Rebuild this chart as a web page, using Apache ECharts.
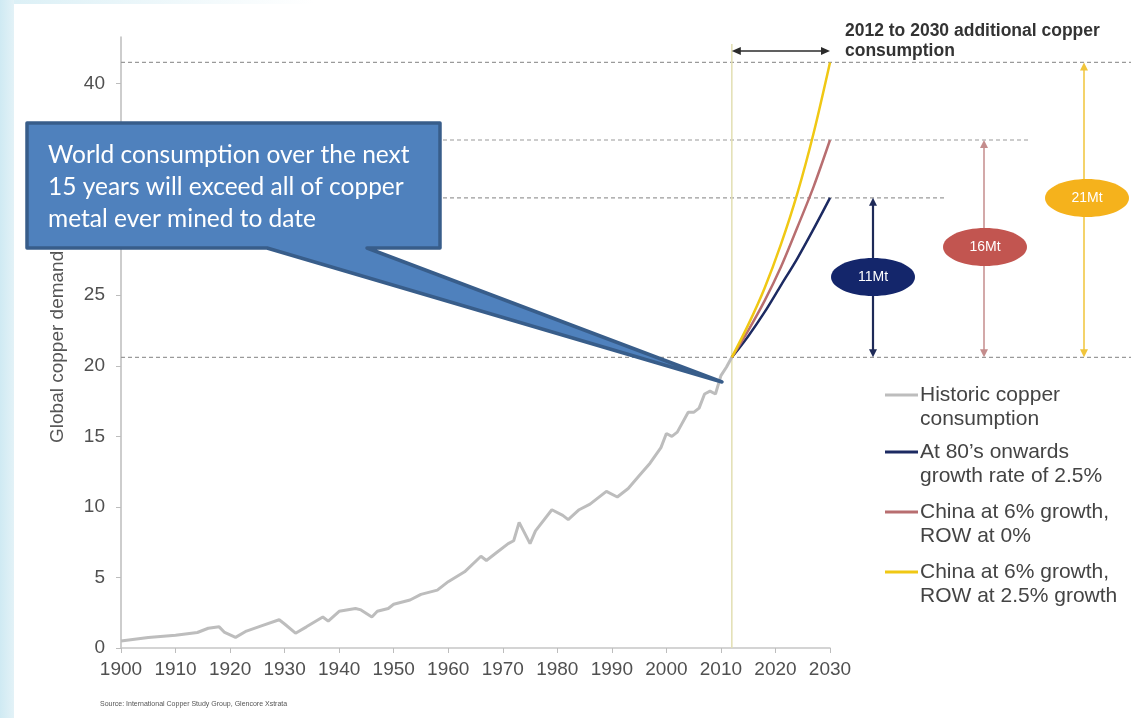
<!DOCTYPE html>
<html><head><meta charset="utf-8">
<script src="https://cdn.jsdelivr.net/npm/echarts@6/dist/echarts.min.js"></script>
<style>
html,body{margin:0;padding:0;width:1131px;height:718px;overflow:hidden;background:#fff;}
#bgl{position:absolute;left:0;top:0;width:14px;height:718px;background:linear-gradient(90deg,#cfeaf3,#e3f2f7);}
#bgt{position:absolute;left:14px;top:0;width:300px;height:4px;background:linear-gradient(90deg,#dcf0f6,#fff);}
#chart{position:absolute;left:0;top:0;width:1131px;height:718px;}
</style></head><body><div id="bgl"></div><div id="bgt"></div><div id="chart"></div>
<script>
// Historic copper consumption (Mt)
const histYears  = [1900,1905,1910,1914,1916,1918,1919,1921,1923,1926,1929,1930,1932,1934,1937,1938,1940,1943,1944,1946,1947,1949,1950,1953,1955,1958,1960,1963,1966,1967,1969,1971,1972,1973,1975,1976,1979,1981,1982,1984,1986,1988,1989,1991,1993,1995,1997,1999,2000,2001,2002,2004,2005,2006,2007,2008,2009,2010,2011,2012];
const histValues = [0.5,0.75,0.9,1.1,1.4,1.5,1.1,0.75,1.2,1.6,2.0,1.7,1.05,1.5,2.2,1.9,2.6,2.8,2.7,2.2,2.6,2.8,3.1,3.4,3.8,4.1,4.7,5.4,6.5,6.2,6.8,7.4,7.6,8.9,7.4,8.3,9.8,9.4,9.1,9.8,10.2,10.8,11.1,10.7,11.3,12.2,13.1,14.2,15.2,15.0,15.3,16.7,16.7,17.0,18.0,18.2,18.0,19.3,19.9,20.6];
// Projections 2012-2030
const projYears      = [2012,2015,2018,2021,2024,2027,2030];
const proj80s        = [20.6,22.1,23.8,25.7,27.6,29.7,31.9];
const projChinaRow0  = [20.6,22.5,24.6,27.0,29.8,32.7,36.0];
const projChinaRow25 = [20.6,22.9,25.5,28.6,32.2,36.5,41.5];
const yTicks = [0,5,10,15,20,25,30,35,40];
const seriesNames = ['Historic copper\nconsumption','At 80\u2019s onwards\ngrowth rate of 2.5%','China at 6% growth,\nROW at 0%','China at 6% growth,\nROW at 2.5% growth'];
const seriesColors = ['#bdbdbd','#1c2a62','#b86e70','#f0c814'];
const gapLabels = ['11Mt','16Mt','21Mt'];

const chart = echarts.init(document.getElementById('chart'));
const pair = (xs, ys) => xs.map((x,i)=>[x, ys[i]]);
const axisFont = 'Liberation Sans, Arial, sans-serif';
chart.setOption({
  animation:false,
  grid:{left:121,right:301,top:37,bottom:70},
  xAxis:{type:'value',min:1900,max:2030,interval:10,
    axisLine:{lineStyle:{color:'#c6c6c6',width:1.5}},
    axisTick:{show:true,length:5,lineStyle:{color:'#bdbdbd'}},
    axisLabel:{fontSize:19,color:'#505050',margin:12,fontFamily:axisFont,formatter:v=>String(v)},
    splitLine:{show:false}},
  yAxis:{type:'value',min:0,max:43.3,
    axisLine:{show:true,lineStyle:{color:'#bdbdbd',width:1.5}},
    axisTick:{show:true,length:5,customValues:yTicks,lineStyle:{color:'#bdbdbd'}},
    axisLabel:{fontSize:19,color:'#505050',margin:16,fontFamily:axisFont,customValues:yTicks},
    splitLine:{show:false}},
  series:[
    {type:'line',name:seriesNames[0],data:pair(histYears,histValues),showSymbol:false,lineStyle:{color:seriesColors[0],width:3},z:2},
    {type:'line',name:seriesNames[1],data:pair(projYears,proj80s),smooth:0.3,showSymbol:false,lineStyle:{color:seriesColors[1],width:2.5},z:3},
    {type:'line',name:seriesNames[2],data:pair(projYears,projChinaRow0),smooth:0.3,showSymbol:false,lineStyle:{color:seriesColors[2],width:2.5},z:4},
    {type:'line',name:seriesNames[3],data:pair(projYears,projChinaRow25),smooth:0.3,showSymbol:false,lineStyle:{color:seriesColors[3],width:2.5},z:5}
  ]
});

const P = (x,y)=>chart.convertToPixel({gridIndex:0},[x,y]);
const base = histValues[histValues.length-1];
const yBase = P(2012,base)[1];
const x2012 = P(2012,0)[0];
const x2030 = P(2030,0)[0];
const xAxisY = P(2012,0)[1];
const ends = [proj80s[proj80s.length-1], projChinaRow0[projChinaRow0.length-1], projChinaRow25[projChinaRow25.length-1]];
const yEnds = ends.map(v=>P(2030,v)[1]);
const el = [];
const dash = {stroke:'#9a9a9a',lineWidth:1.2,lineDash:[4,3]};
const gl = P(1900,0)[0];
// dashed reference lines
el.push({type:'line',shape:{x1:gl,y1:yEnds[2],x2:1131,y2:yEnds[2]},style:dash,z:1});
el.push({type:'line',shape:{x1:gl,y1:yEnds[1],x2:1030,y2:yEnds[1]},style:dash,z:1});
el.push({type:'line',shape:{x1:gl,y1:yEnds[0],x2:945,y2:yEnds[0]},style:dash,z:1});
el.push({type:'line',shape:{x1:gl,y1:yBase,x2:1131,y2:yBase},style:dash,z:1});
// 2012 vertical
el.push({type:'line',shape:{x1:x2012,y1:44,x2:x2012,y2:xAxisY},style:{stroke:'#e2dfb2',lineWidth:1.5},z:1});
function vArrow(x,y1,y2,color,w){
  el.push({type:'line',shape:{x1:x,y1:y1+4,x2:x,y2:y2-4},style:{stroke:color,lineWidth:w},z:5});
  el.push({type:'polygon',shape:{points:[[x,y1],[x-4,y1+8],[x+4,y1+8]]},style:{fill:color},z:5});
  el.push({type:'polygon',shape:{points:[[x,y2],[x-4,y2-8],[x+4,y2-8]]},style:{fill:color},z:5});
}
function hArrow(x1,x2,y,color){
  el.push({type:'line',shape:{x1:x1+4,y1:y,x2:x2-4,y2:y},style:{stroke:color,lineWidth:1.5},z:5});
  el.push({type:'polygon',shape:{points:[[x1,y],[x1+9,y-4],[x1+9,y+4]]},style:{fill:color},z:5});
  el.push({type:'polygon',shape:{points:[[x2,y],[x2-9,y-4],[x2-9,y+4]]},style:{fill:color},z:5});
}
hArrow(x2012,x2030,51,'#2b2b2b');
vArrow(873,yEnds[0],yBase,'#1e2a58',2.2);
vArrow(984,yEnds[1],yBase,'#c48c8c',1.5);
vArrow(1084,yEnds[2],yBase,'#f0c43a',1.5);
function ell(cx,cy,fill,txt){
  el.push({type:'ellipse',shape:{cx:cx,cy:cy,rx:42,ry:19},style:{fill:fill},z:6});
  el.push({type:'text',x:cx,y:cy,style:{text:txt,fill:'#fff',font:'14px Liberation Sans, Arial, sans-serif',align:'center',verticalAlign:'middle'},z:7});
}
ell(873,277,'#14266b',gapLabels[0]);
ell(985,247,'#c25550',gapLabels[1]);
ell(1087,198,'#f5b21c',gapLabels[2]);
// title
el.push({type:'text',x:845,y:21,style:{text:'2012 to 2030 additional copper\nconsumption',fill:'#333',font:'bold 17.5px Liberation Sans, Arial, sans-serif',lineHeight:20,align:'left',verticalAlign:'top'},z:5});
// legend
const legY = [395,452,512,572];
for(let i=0;i<4;i++){
  el.push({type:'line',shape:{x1:885,y1:legY[i],x2:918,y2:legY[i]},style:{stroke:seriesColors[i],lineWidth:3},z:5});
  el.push({type:'text',x:920,y:legY[i]-12,style:{text:seriesNames[i],fill:'#444',font:'21px Liberation Sans, Arial, sans-serif',lineHeight:24,align:'left',verticalAlign:'top'},z:5});
}
// y axis name
el.push({type:'text',x:58,y:443,rotation:Math.PI/2,style:{text:'Global copper demand (Mt)',fill:'#555',font:'19px Liberation Sans, Arial, sans-serif',align:'left',verticalAlign:'middle'},z:5});
// source
el.push({type:'text',x:100,y:704,style:{text:'Source: International Copper Study Group, Glencore Xstrata',fill:'#555',font:'7px Liberation Sans, Arial, sans-serif',align:'left',verticalAlign:'middle'},z:5});
// callout
el.push({type:'polygon',shape:{points:[[27,123],[440,123],[440,248],[367,248],[722,382],[267,248],[27,248]]},style:{fill:'#4f81bd',stroke:'#385d8a',lineWidth:3.5,lineJoin:'round'},z:50});
el.push({type:'text',x:48,y:139,style:{text:'World consumption over the next\n15 years will exceed all of copper\nmetal ever mined to date',fill:'#fff',font:'24.5px Lato, Open Sans, sans-serif',lineHeight:32,align:'left',verticalAlign:'top'},z:51});
chart.setOption({graphic:{elements:el}});
</script></body></html>
